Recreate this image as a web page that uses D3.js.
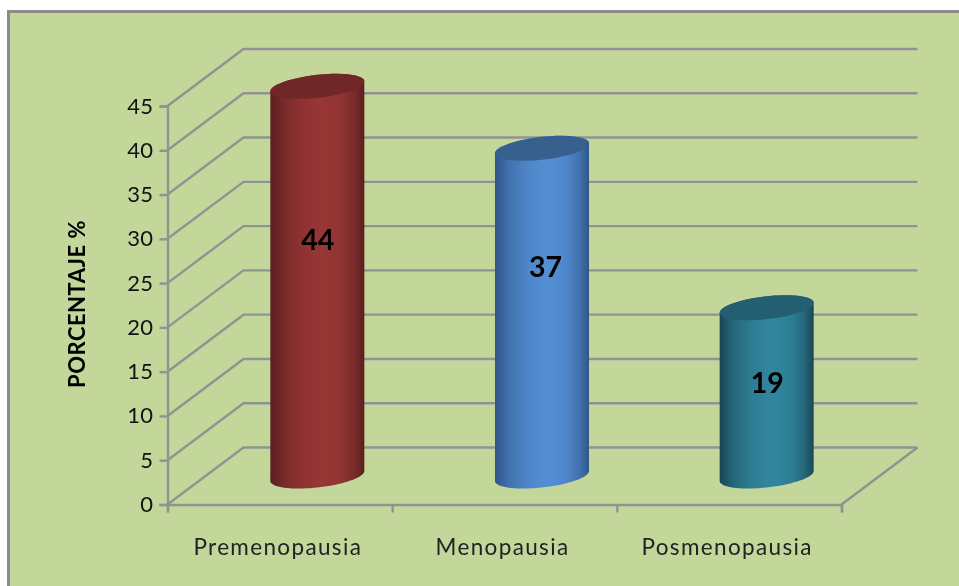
<!DOCTYPE html>
<html><head><meta charset="utf-8">
<script src="https://cdn.jsdelivr.net/npm/d3@7"></script>
<style>
html,body{margin:0;padding:0;background:#fff}
svg{display:block;filter:blur(0.45px)}
text{font-family:Lato,"Noto Sans",sans-serif}
</style></head><body>
<svg id="c" width="959" height="586"></svg>
<script>
const categories=["Premenopausia","Menopausia","Posmenopausia"];
const values=[44,37,19];
const yTicks=[0,5,10,15,20,25,30,35,40,45];
const axisTitle="PORCENTAJE %";
const bodyEdge=["#591f1e","#2f5688","#1a4656"];
const bodyMid=["#983735","#558ed5","#31879f"];
const topFill=["#6f2827","#37608f","#235f71"];

const W=959,H=586;
const x0=167.5,x1=841.5,y0=504.5,y1=106,dx=76,dy=-57;
const svg=d3.select("#c");
const x=d3.scaleBand().domain(categories).range([x0,x1]);
const y=d3.scaleLinear().domain([0,45]).range([y0,y1]);
const grey="#929292";

svg.append("rect").attr("x",8.5).attr("y",11.5).attr("width",W).attr("height",H)
  .attr("fill","#c4d79b").attr("stroke","#8c8c8c").attr("stroke-width",3);

const defs=svg.append("defs");
categories.forEach((c,i)=>{
  const g=defs.append("linearGradient").attr("id","g"+i);
  const mix=d3.interpolateRgb(bodyEdge[i],bodyMid[i]);
  [[0,0],[.15,.5],[.35,.85],[.55,1],[.75,.88],[.9,.5],[1,0]].forEach(s=>{
    g.append("stop").attr("offset",s[0]).attr("stop-color",mix(s[1]));
  });
});

const grid=svg.append("g").attr("fill","none").attr("stroke",grey).attr("stroke-width",2.4);
yTicks.forEach(t=>{
  grid.append("path").attr("d",d3.line()([[x0,y(t)],[x0+dx,y(t)+dy],[x1+dx,y(t)+dy]]));
});
grid.append("path").attr("d",d3.line()([[x1,y0],[x1+dx,y0+dy]]));

const ax=d3.axisLeft(y).tickValues(yTicks).tickSize(8).tickPadding(6);
const gy=svg.append("g").attr("transform",`translate(${x0},0)`).call(ax);
const bx=d3.scaleLinear().domain([0,3]).range([x0,x1]);
const gx=svg.append("g").attr("transform",`translate(0,${y0})`)
  .call(d3.axisBottom(bx).tickValues([0,1,2,3]).tickSize(8).tickFormat(""));
[gy,gx].forEach(g=>{g.selectAll("path,line").attr("stroke",grey).attr("stroke-width",2.4);});
gy.selectAll("text").attr("font-size",22).attr("fill","#111").style("letter-spacing","0.4px");

svg.append("g").selectAll("text").data(categories).join("text")
  .attr("x",d=>x(d)+x.bandwidth()/2-2).attr("y",555)
  .attr("text-anchor","middle").attr("font-size",22.5).attr("fill","#222")
  .style("letter-spacing","1.35px").text(d=>d);

svg.append("text").attr("transform","translate(85,304) rotate(-90)")
  .attr("text-anchor","middle").attr("font-size",22).attr("font-weight",700).attr("fill","#000")
  .style("letter-spacing","0.5px").text(axisTitle);

const rx=47,tilt=5,ry=11.5;
const ring=(cx,cy,from,to)=>d3.range(0,41).map(k=>{
  const t=from+(to-from)*k/40;
  return [cx+rx*Math.cos(t),cy-tilt*Math.cos(t)+ry*Math.sin(t)];
});
const cyl=svg.append("g");
categories.forEach((c,i)=>{
  const cx=x(c)+x.bandwidth()/2+dx/2-0.5;
  const yB=y(0)+dy/2, yT=y(values[i])+dy/2;
  const pts=[...ring(cx,yB,Math.PI,0),...ring(cx,yT,0,-Math.PI)];
  cyl.append("path").attr("d",d3.line()(pts)+"Z").attr("fill",`url(#g${i})`);
  cyl.append("path").attr("d",d3.line()(ring(cx,yT,0,2*Math.PI))+"Z").attr("fill",topFill[i]);
});
// the labels sit above the middle of each bar, by a different amount per bar
const labelLift=[41,45,9];
svg.append("g").selectAll("text").data(values).join("text")
  .attr("x",(d,i)=>x(categories[i])+x.bandwidth()/2+dx/2+(i==1?3:0))
  .attr("y",(d,i)=>(y(0)+y(d))/2+dy/2+10-labelLift[i])
  .attr("text-anchor","middle").attr("font-size",28.5).attr("font-weight",700).attr("fill","#000")
  .text(d=>d);
</script></body></html>
